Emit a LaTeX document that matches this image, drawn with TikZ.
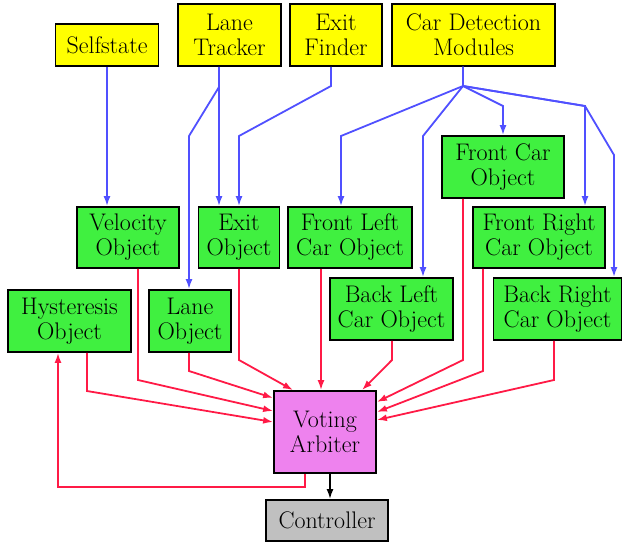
\documentclass[tikz,border=0pt]{standalone}
\usetikzlibrary{arrows.meta}
\definecolor{cyel}{RGB}{255,255,0}
\definecolor{cgrn}{RGB}{64,240,64}
\definecolor{cvio}{RGB}{238,130,238}
\definecolor{cgry}{RGB}{192,192,192}
\definecolor{cblu}{RGB}{80,80,255}
\definecolor{cred}{RGB}{255,26,70}
\tikzset{
  box/.style={draw=black, line width=1.8pt, align=center, inner sep=0pt,
    font=\rmfamily\fontsize{24}{25}\selectfont},
  src/.style={box, fill=cyel},
  obj/.style={box, fill=cgrn},
  blue edge/.style={draw=cblu, line width=1.8pt, -{Latex[length=10pt,width=7pt]}},
  red edge/.style={draw=cred, line width=1.8pt, -{Latex[length=10pt,width=7pt]}},
  black edge/.style={draw=black, line width=1.8pt, -{Latex[length=10pt,width=7pt]}},
}
\begin{document}
\begin{tikzpicture}[x=1pt,y=-1pt]
\useasboundingbox (0,0) rectangle (623,544);
% sources
\node[src, minimum width=103, minimum height=42] (self) at (107,45) {Selfstate};
\node[src, minimum width=103, minimum height=62] (lt) at (229.5,35) {Lane\\Tracker};
\node[src, minimum width=92, minimum height=62] (ef) at (336,35) {Exit\\Finder};
\node[src, minimum width=163, minimum height=62] (cdm) at (473.5,35) {Car Detection\\Modules};
% objects
\node[obj, minimum width=102, minimum height=61] (vel) at (128,237.5) {Velocity\\Object};
\node[obj, minimum width=81, minimum height=61] (exo) at (239,237.5) {Exit\\Object};
\node[obj, minimum width=124, minimum height=61] (fl) at (350,237.5) {Front Left\\Car Object};
\node[obj, minimum width=122, minimum height=62] (fc) at (503,167) {Front Car\\Object};
\node[obj, minimum width=132, minimum height=61] (fr) at (539,237.5) {Front Right\\Car Object};
\node[obj, minimum width=123, minimum height=62] (hys) at (69.5,321) {Hysteresis\\Object};
\node[obj, minimum width=82, minimum height=62] (lane) at (190,321) {Lane\\Object};
\node[obj, minimum width=123, minimum height=62] (bl) at (391.5,309) {Back Left\\Car Object};
\node[obj, minimum width=128, minimum height=62] (br) at (557.5,309) {Back Right\\Car Object};
% arbiter and controller
\node[box, fill=cvio, minimum width=102, minimum height=82] (va) at (325,432) {Voting\\Arbiter};
\node[box, fill=cgry, minimum width=122, minimum height=41] (ctl) at (327,520.5) {Controller};
% blue edges
\draw[blue edge] (self.south) -- (vel.north -| self.south);
\draw[blue edge] ([xshift=-10.5pt]lt.south) -- ([xshift=-20pt]exo.north);
\draw[blue edge] ([xshift=-10.5pt]lt.south) -- (219,87) -- (189,136) -- ([xshift=-1pt]lane.north);
\draw[blue edge] ([xshift=-5pt]ef.south) -- (331,86) -- (239,136) -- (exo.north);
\draw[blue edge] ([xshift=-10.5pt]cdm.south) -- (463,86) -- (341,136) -- ([xshift=-9pt]fl.north);
\draw[blue edge] ([xshift=-10.5pt]cdm.south) -- (463,86) -- (423,136) -- ([xshift=31.5pt]bl.north);
\draw[blue edge] ([xshift=-10.5pt]cdm.south) -- (463,86) -- (503,106) -- (fc.north);
\draw[blue edge] ([xshift=-10.5pt]cdm.south) -- (463,86) -- (585,106) -- ([xshift=46pt]fr.north);
\draw[blue edge] ([xshift=-10.5pt]cdm.south) -- (463,86) -- (585,106) -- (614,155) -- ([xshift=56.5pt]br.north);
% red edges
\draw[red edge] ([xshift=10pt]vel.south) -- (138,380) -- ([yshift=21pt]va.west);
\draw[red edge] ([xshift=17.5pt]hys.south) -- (87,391) -- ([yshift=10pt]va.west);
\draw[red edge] ([xshift=-1pt]lane.south) -- (189,371) -- ([yshift=34pt]va.west);
\draw[red edge] (exo.south) -- (239,360) -- ([xshift=-32pt]va.north);
\draw[red edge] ([xshift=-29pt]fl.south) -- ([xshift=-4pt]va.north);
\draw[red edge] ([xshift=0.5pt]bl.south) -- (392,360) -- ([xshift=37pt]va.north);
\draw[red edge] ([xshift=-40pt]fc.south) -- (463,360) -- ([yshift=30pt]va.east);
\draw[red edge] ([xshift=-56pt]fr.south) -- (483,371) -- ([yshift=20pt]va.east);
\draw[red edge] ([xshift=-3.5pt]br.south) -- (554,380) -- ([yshift=12pt]va.east);
\draw[red edge] ([xshift=-20pt]va.south) -- (305,487) -- (58,487) -- ([xshift=-11.5pt]hys.south);
% black edge
\draw[black edge] ([xshift=5pt]va.south) -- ([xshift=3pt]ctl.north);
\end{tikzpicture}
\end{document}
